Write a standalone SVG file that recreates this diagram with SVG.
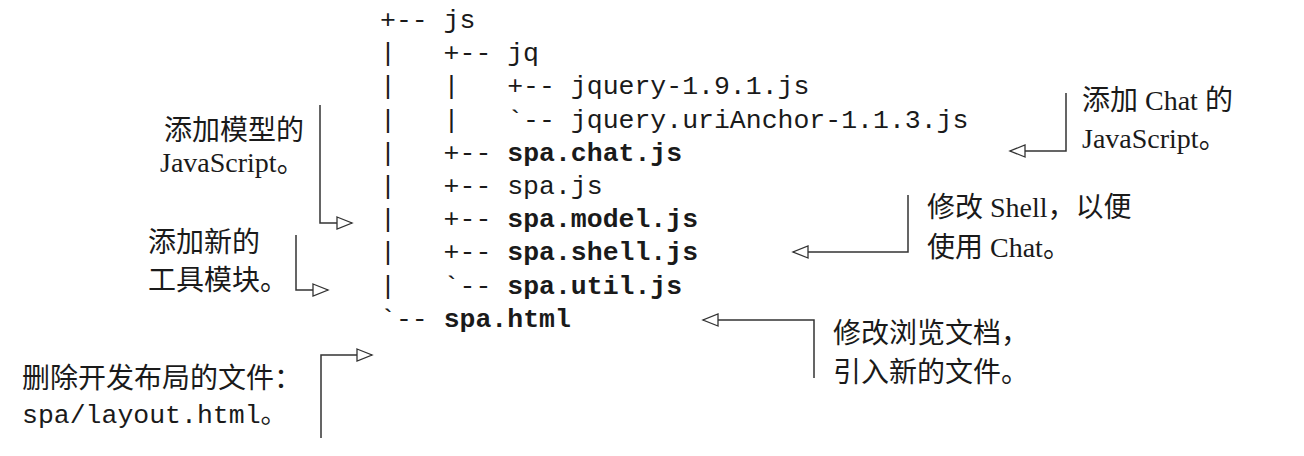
<svg xmlns="http://www.w3.org/2000/svg" width="1304" height="456" viewBox="0 0 1304 456">
<style>
.mono{font-family:"Liberation Mono","Noto Sans CJK SC",monospace;font-size:26.5px;fill:#1a1a1a}
.b{font-weight:bold}
.note{font-family:"Liberation Serif","Noto Sans CJK SC",serif;font-size:28px;fill:#1a1a1a}
.con{fill:none;stroke:#333;stroke-width:1.5}
</style>
<defs>
<marker id="tri" markerUnits="userSpaceOnUse" markerWidth="18" markerHeight="14" refX="15" refY="6" orient="auto" viewBox="-1 -1 18 14">
<path d="M0,0 L15,6 L0,12 Z" fill="#fff" stroke="#333" stroke-width="1.3"/>
</marker>
</defs>
<rect width="1304" height="456" fill="#fff"/>
<g id="tree" class="mono">
<text x="380" y="28">+--&#160;js</text>
<text x="380" y="61.2">|&#160;&#160;&#160;+--&#160;jq</text>
<text x="380" y="94.4">|&#160;&#160;&#160;|&#160;&#160;&#160;+--&#160;jquery-1.9.1.js</text>
<text x="380" y="127.6">|&#160;&#160;&#160;|&#160;&#160;&#160;`--&#160;jquery.uriAnchor-1.1.3.js</text>
<text x="380" y="160.8">|&#160;&#160;&#160;+--&#160;<tspan class="b">spa.chat.js</tspan></text>
<text x="380" y="194">|&#160;&#160;&#160;+--&#160;spa.js</text>
<text x="380" y="227.2">|&#160;&#160;&#160;+--&#160;<tspan class="b">spa.model.js</tspan></text>
<text x="380" y="260.4">|&#160;&#160;&#160;+--&#160;<tspan class="b">spa.shell.js</tspan></text>
<text x="380" y="293.6">|&#160;&#160;&#160;`--&#160;<tspan class="b">spa.util.js</tspan></text>
<text x="380" y="326.8">`--&#160;<tspan class="b">spa.html</tspan></text>
</g>
<g id="note-model" class="note">
<text x="164" y="140">添加模型的</text>
<text x="160" y="172">JavaScript。</text>
</g>
<g id="note-util" class="note">
<text x="148" y="252">添加新的</text>
<text x="148" y="290">工具模块。</text>
</g>
<g id="note-layout">
<text class="note" x="22" y="388">删除开发布局的文件：</text>
<text class="mono" x="22" y="423">spa/layout.html。</text>
</g>
<g id="note-chat" class="note">
<text x="1082" y="110">添加 Chat 的</text>
<text x="1082" y="148">JavaScript。</text>
</g>
<g id="note-shell" class="note">
<text x="927" y="217">修改 Shell，以便</text>
<text x="927" y="257">使用 Chat。</text>
</g>
<g id="note-html" class="note">
<text x="833" y="343">修改浏览文档，</text>
<text x="833" y="382">引入新的文件。</text>
</g>
<g id="connectors" class="con">
<path d="M320,105 V223 H352" marker-end="url(#tri)"/>
<path d="M296,235 V290 H328" marker-end="url(#tri)"/>
<path d="M321,438 V355 H372" marker-end="url(#tri)"/>
<path d="M1066,93 V151 H1010" marker-end="url(#tri)"/>
<path d="M908,195 V252 H793" marker-end="url(#tri)"/>
<path d="M814,378 V320 H703" marker-end="url(#tri)"/>
</g>
</svg>
